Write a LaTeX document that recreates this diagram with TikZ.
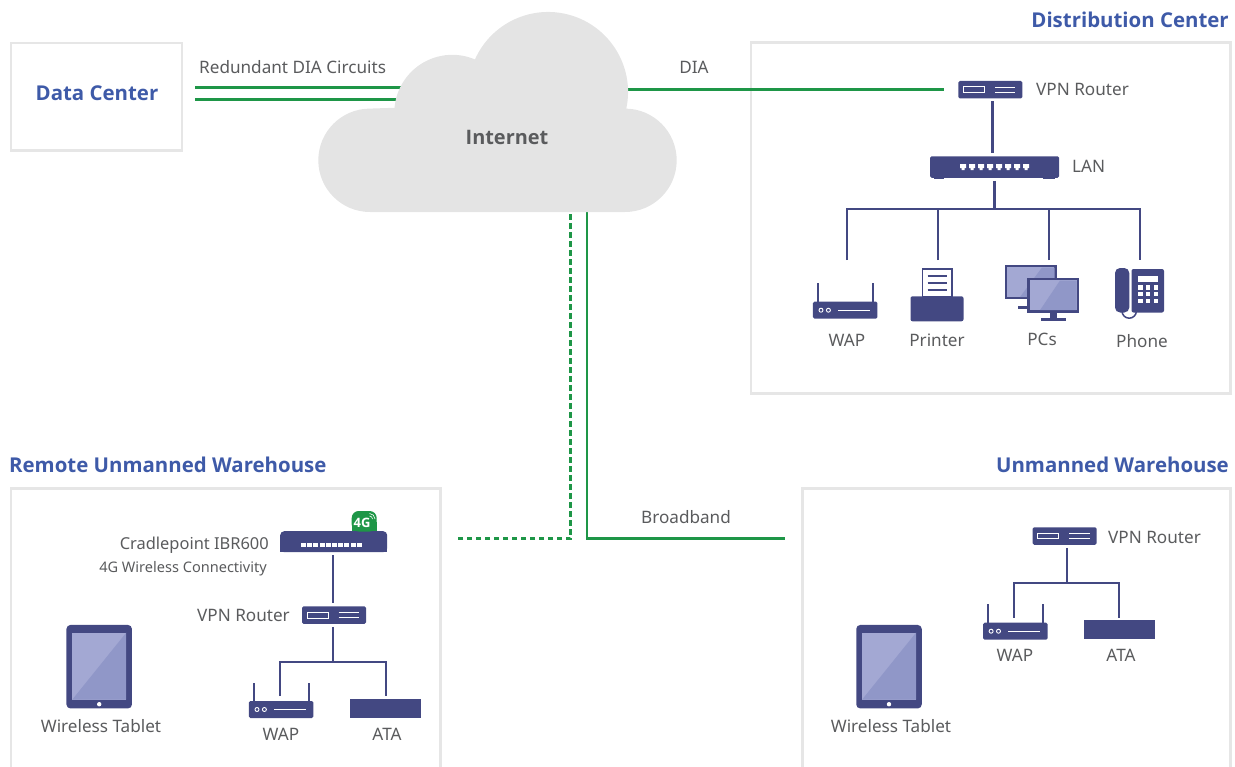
\documentclass[tikz,border=0pt]{standalone}
\usepackage{fontspec}
\setmainfont{Noto Sans}
\newfontfamily\headfont{Open Sans}
\definecolor{navy}{HTML}{434882}
\definecolor{screenA}{HTML}{A3A8D3}
\definecolor{screenB}{HTML}{9097C8}
\definecolor{txtgray}{HTML}{5A5B5D}
\definecolor{headblue}{HTML}{3E5AA8}
\definecolor{wangreen}{HTML}{1E9647}
\definecolor{boxgray}{HTML}{E6E6E6}
\definecolor{cloudgray}{HTML}{E4E4E4}
\tikzset{
	lbl/.style={text=txtgray,font=\fontsize{17.2}{20}\selectfont,inner sep=0pt,yshift=-1bp},
	head/.style={text=headblue,font=\fontsize{20.5}{24}\selectfont\headfont\bfseries,inner sep=0pt},
	lan/.style={navy,line width=2.2bp},
	wan/.style={wangreen,line width=2.5bp},
	wandash/.style={wangreen,line width=2.5bp,dash pattern=on 5.5bp off 3.5bp},
	frame/.style={boxgray,line width=2.5bp},
	bodybox/.style={fill=navy,draw=none,inner sep=0pt,outer sep=3bp,rounded corners=1.5bp}
}
\tikzset{
	vpnrouter/.pic={
		code={
\node[bodybox,minimum width=64bp,minimum height=17.5bp] (-body) at (0,0) {};
\draw[white,line width=1bp](-27,-2.8)rectangle(-6,2.8);
\draw[white,line width=1bp](4.5,-2.6)--(25,-2.6);
\draw[white,line width=1bp](4.5,2.6)--(25,2.6);
		}
	}
}
\tikzset{
	wap/.pic={
		code={
\node[bodybox,minimum width=64.5bp,minimum height=17bp] (-body) at (0,0) {};
\draw[navy,line width=1.8bp](-27.5,0)--(-27.5,-27);
\draw[navy,line width=1.8bp](27.5,0)--(27.5,-27);
\draw[white,line width=0.9bp](-24.2,0)circle[radius=2bp];
\draw[white,line width=0.9bp](-16.8,0)circle[radius=2bp];
\draw[white,line width=1bp](-7,0)--(25,0);
		}
	}
}
\tikzset{
	tablet/.pic={
		code={
\node[bodybox,rounded corners=4bp,minimum width=65.5bp,minimum height=83.5bp] (-body) at (0,0) {};
\fill[screenA](-27,-34)rectangle(27,33);
\fill[screenB](27,-34)--(27,33)--(-27,33)--cycle;
\fill[white](0,37.5)circle[radius=2.2bp];
		}
	}
}
\begin{document}
\begin{tikzpicture}[x=1bp,y=-1bp]
\useasboundingbox (0,0) rectangle (1235,767);

%frames
\node[draw=boxgray,line width=2.5bp,minimum width=171bp,minimum height=107.5bp,inner sep=0pt] (dcbox) at (96.7,96.9) {};
\node[draw=boxgray,line width=2.5bp,minimum width=479.5bp,minimum height=351bp,inner sep=0pt] (distbox) at (990.5,218) {};
\draw[frame] (11,767)--(11,488.5)--(440.5,488.5)--(440.5,767);
\draw[frame] (802.5,767)--(802.5,488.5)--(1230.5,488.5)--(1230.5,767);

%internet
\coordinate (circA) at (195,87.5);
\coordinate (circB) at (195,99.5);
\coordinate (circAend) at (420,87.5);
\coordinate (circBend) at (420,99.5);
\coordinate (diaStart) at (600,89.5);
\coordinate (dashEnd) at (457,538.5);
\coordinate (bbEnd) at (785,538.5);
\coordinate (dashTop) at (570.7,214);
\coordinate (bbTop) at (587,205);
\draw[wan] (circA)--(circAend);
\draw[wan] (circB)--(circBend);

\path (990.3,89.7) pic (dcvpn) {vpnrouter};
\draw[wan,shorten >=11bp] (diaStart)--(diaStart-|dcvpn-body.west);
\draw[wandash] (dashTop)|-(dashEnd);
\draw[wan] (bbTop)|-(bbEnd);

\fill[cloudgray] (370,212)--(625,212) arc[start angle=-90,end angle=90,radius=51.7bp]
	--(626.3,108.6) arc[start angle=-12,end angle=156,radius=80bp]
	arc[start angle=67,end angle=175,radius=58bp]
	--(370,108.6) arc[start angle=90,end angle=270,radius=51.7bp]--cycle;
\node[lbl,font=\fontsize{20}{24}\selectfont\headfont\bfseries] (inet) at (507,136) {Internet};
\node[lbl,anchor=west] (circlbl) at (199,66) {Redundant DIA Circuits};
\node[lbl] (dialbl) at (694,66) {DIA};
\node[lbl] (bblbl) at (686,516) {Broadband};
\node[head] (dclbl) at (97,93) {Data Center};
\node[head,anchor=east] (distlbl) at (1229,20) {Distribution Center};
\node[head,anchor=west] (remlbl) at (9,465) {Remote Unmanned Warehouse};
\node[head,anchor=east] (unmlbl) at (1229,465) {Unmanned Warehouse};

%distribution center
\node[lbl,anchor=west] (dcvpnlbl) at (1036,88) {VPN Router};
\node[bodybox,minimum width=129bp,minimum height=21.5bp] (dclan) at (994.5,167) {};
\fill[navy] (934,170) rectangle (944,179);
\fill[navy] (1043,170) rectangle (1055,179);
\foreach \i in {0,...,7}{
	\fill[white] (960+9*\i,164)--++(6,0)--++(0,4)--++(-1.5,0)--++(0,2)--++(-3,0)--++(0,-2)--++(-1.5,0)--cycle;
}
\node[lbl,anchor=west] (lanlbl) at (1072,165) {LAN};
\coordinate (dcstem) at (992.5,125);
\draw[lan] (dcstem|-dcvpn-body.south)--(dcstem|-dclan.north);
\coordinate (dcbus) at (994.5,209);
\coordinate (dcwaptop) at (847,260);
\coordinate (dcprinttop) at (937.7,260);
\coordinate (dcpctop) at (1049.3,260);
\coordinate (dcphonetop) at (1140.3,260);
\draw[lan] (dclan.south)--(dcbus);
\draw[lan] (dcwaptop)|-(dcbus)-|(dcphonetop);
\draw[lan] (dcprinttop)--(dcprinttop|-dcbus);
\draw[lan] (dcpctop)--(dcpctop|-dcbus);

\path (845.2,310.2) pic (dcwap) {wap};
\node[lbl] (dcwaplbl) at (847,339) {WAP};
%printer
\fill[navy,rounded corners=2bp] (910.5,296.3) rectangle (963.5,321.3);
\draw[navy,line width=1.5bp,fill=white] (922.5,296.5) rectangle (952,269);
\foreach \y in {276,283,290}{\draw[navy,line width=1.2bp] (927.5,\y)--(947,\y);}
\node[lbl] (printlbl) at (937,339) {Printer};
%pcs
\fill[navy] (1018,305.5) rectangle (1030,308.5);
\draw[navy,line width=2.5bp,fill=screenA] (1006.2,266.2) rectangle (1055.5,298.2);
\fill[screenB] (1054.5,267.5)--(1054.5,297)--(1020,297)--(1042,267.5)--cycle;
\draw[navy,line width=2.5bp,fill=screenA] (1028.7,279.2) rectangle (1077.8,311.5);
\fill[screenB] (1076.5,280.5)--(1076.5,310.2)--(1040,310.2)--(1060,280.5)--cycle;
\fill[navy] (1050,312) rectangle (1056.5,319);
\fill[navy] (1040.5,318) rectangle (1066,321);
\node[lbl] (pclbl) at (1042,338) {PCs};
%phone
\draw[navy,line width=1.5bp] (1122,311) arc[start angle=180,end angle=360,radius=7.2bp];
\fill[navy,rounded corners=5bp] (1115,268) rectangle (1129.3,312.5);
\fill[navy,rounded corners=2bp] (1131.5,269) rectangle (1164,312.5);
\fill[white] (1138.3,275.5) rectangle (1158.3,281.7);
\foreach \x in {1140.3,1148,1155.7}{
	\foreach \y in {287.3,294,300.7}{
		\fill[white] (\x-2.2,\y-2.2) rectangle (\x+2.2,\y+2.2);
	}
}
\node[lbl] (phonelbl) at (1142,340) {Phone};

%remote unmanned warehouse
\node[bodybox,rounded corners=4bp,minimum width=107bp,minimum height=21bp] (cradle) at (333.7,541.7) {};
\fill[navy] (280.2,545) rectangle (387.2,552.2);
\fill[wangreen,rounded corners=7bp] (351.7,531.5) rectangle (376.7,511);
\fill[wangreen] (351.7,531) rectangle (376.7,522);
\node[inner sep=0pt,text=white,font=\fontsize{13}{12}\selectfont\headfont\bfseries] (fourg) at (362,523) {4G};
\draw[white,line width=0.6bp] (369.5,516) arc[start angle=90,end angle=0,radius=3bp];
\draw[white,line width=0.6bp] (369.5,513.5) arc[start angle=90,end angle=0,radius=5.5bp];
\foreach \i in {0,...,9}{
	\fill[white] (301+6.2*\i,542.6) rectangle ++(4.9,4.6);
}
\node[lbl,anchor=east,font=\fontsize{16.5}{20}\selectfont] (cradlelbl) at (269,544) {Cradlepoint IBR600};
\node[lbl,anchor=east,font=\fontsize{14.6}{17}\selectfont] (cradlesub) at (267,567.5) {4G Wireless Connectivity};
\path (334,615.2) pic (remvpn) {vpnrouter};
\node[lbl,anchor=east] (remvpnlbl) at (290,614) {VPN Router};
\coordinate (rembus) at (332.8,662);
\coordinate (remwaptop) at (280,696);
\coordinate (rematatop) at (385.7,696);
\draw[lan] (rembus|-cradle.south)--(rembus|-remvpn-body.north);
\draw[lan] (rembus|-remvpn-body.south)--(rembus);
\draw[lan] (remwaptop)|-(rembus)-|(rematatop);
\path (281.2,709.5) pic (remwap) {wap};
\node[lbl] (remwaplbl) at (281,733) {WAP};
\node[bodybox,rounded corners=0pt,minimum width=71bp,minimum height=19bp] (remata) at (385.5,708.5) {};
\node[lbl] (rematalbl) at (387,733) {ATA};
\path (99.2,666.7) pic (remtab) {tablet};
\node[lbl] (remtablbl) at (101,725) {Wireless Tablet};

%unmanned warehouse
\path (1064.7,536) pic (unmvpn) {vpnrouter};
\node[lbl,anchor=west] (unmvpnlbl) at (1108,536) {VPN Router};
\coordinate (unmbus) at (1066.7,583);
\coordinate (unmwaptop) at (1014.3,617.5);
\coordinate (unmatatop) at (1119.3,617.5);
\draw[lan] (unmbus|-unmvpn-body.south)--(unmbus);
\draw[lan] (unmwaptop)|-(unmbus)-|(unmatatop);
\path (1015.3,631.2) pic (unmwap) {wap};
\node[lbl] (unmwaplbl) at (1015,654) {WAP};
\node[bodybox,rounded corners=0pt,minimum width=71bp,minimum height=19bp] (unmata) at (1119.5,629.5) {};
\node[lbl] (unmatalbl) at (1121,654) {ATA};
\path (889,666.7) pic (unmtab) {tablet};
\node[lbl] (unmtablbl) at (891,725) {Wireless Tablet};
\end{tikzpicture}
\end{document}
